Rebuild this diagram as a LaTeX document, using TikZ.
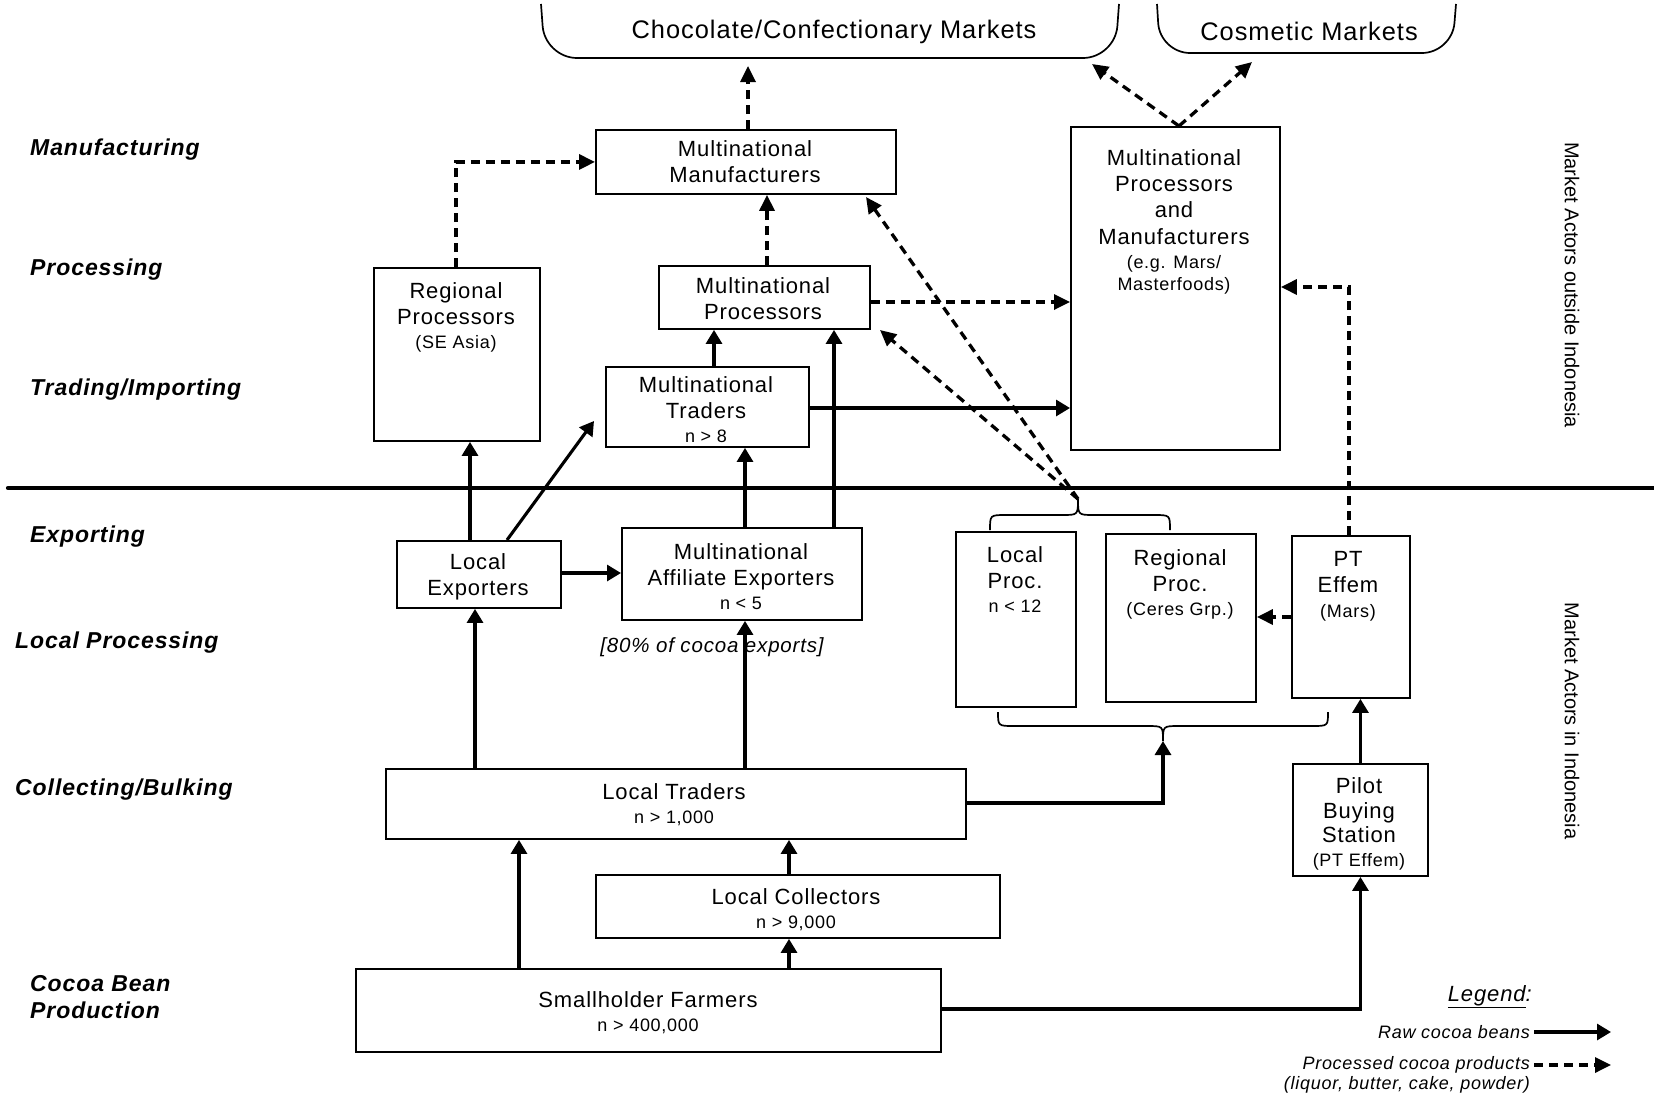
\documentclass[tikz,border=0pt]{standalone}
\usepackage{fontspec}
\setmainfont{Liberation Sans}[LetterSpace=4]
\newfontfamily\plainsans{Liberation Sans}
\usetikzlibrary{arrows.meta,calc}
\newcommand\fmain{\fontsize{22}{26.4}\selectfont}
\newcommand\fsm{\fontsize{18}{21.6}\selectfont}
\newcommand\fmkt{\fontsize{25.4}{30}\selectfont}
\newcommand\flab{\fontsize{23}{27}\selectfont\bfseries\itshape}
\newcommand\mkbox[5]{\node[cbox, minimum width={#4-#2}, minimum height={#5-#3}] (#1) at (#2,#3) {};}
\begin{document}
\begin{tikzpicture}[x=1pt,y=-1pt,
  cbox/.style={draw, line width=1.9pt, inner sep=0, anchor=north west},
  txt/.style={align=center, inner sep=0, font=\fmain, anchor=north},
  lab/.style={inner sep=0, font=\flab, anchor=west},
  ra/.style={line width=3.1pt, -{Triangle[length=14pt,width=16pt]}},
  pa/.style={line width=3.3pt, dash pattern=on 9pt off 6pt, -{Triangle[length=16pt,width=15pt]}},
  side/.style={inner sep=0, rotate=-90, font=\plainsans\fontsize{20}{24}\selectfont},
  leg/.style={inner sep=0, font=\fsm\itshape, anchor=east}]
\useasboundingbox (0,0) rectangle (1654,1095);

% markets
\draw[line width=1.7pt, rounded corners=32pt] (541,4) -- (545,58) -- (1115,58) -- (1119,4);
\draw[line width=1.7pt, rounded corners=30pt] (1157,4) -- (1160,53) -- (1452,53) -- (1456,4);
\node[inner sep=0, font=\fmkt] (choc) at (834,32) {Chocolate/Confectionary Markets};
\node[inner sep=0, font=\fmkt] (cosm) at (1309,31) {Cosmetic Markets};

% divider
\coordinate (dl) at (8,488);
\coordinate (dr) at (1654,488);
\draw[line width=4.2pt, line cap=round] (dl) -- (dr);

% side labels
\node[side] (outs) at (1572,285) {Market Actors outside Indonesia};
\node[side] (ins) at (1572,721) {Market Actors in Indonesia};

% left labels
\node[lab] (l1) at (30,150) {Manufacturing};
\node[lab] (l2) at (30,270) {Processing};
\node[lab] (l3) at (30,390) {Trading/Importing};
\node[lab] (l4) at (30,537) {Exporting};
\node[lab] (l5) at (15,643) {Local Processing};
\node[lab] (l6) at (15,790) {Collecting/Bulking};
\node[lab, anchor=north west, align=left] (l7) at (30,975) {Cocoa Bean\\Production};

% boxes
\mkbox{mm}{595}{129}{895}{193}
\mkbox{mpm}{1070}{126}{1279}{449}
\mkbox{rp}{373}{267}{539}{440}
\mkbox{mp}{658}{265}{869}{328}
\mkbox{mt}{605}{366}{808}{446}
\mkbox{le}{396}{540}{560}{607}
\mkbox{mae}{621}{527}{861}{619}
\mkbox{lp}{955}{531}{1075}{706}
\mkbox{regp}{1105}{533}{1255}{701}
\mkbox{pt}{1291}{535}{1409}{697}
\mkbox{lt}{385}{768}{965}{838}
\mkbox{pilot}{1292}{763}{1427}{875}
\mkbox{lc}{595}{874}{999}{937}
\mkbox{sf}{355}{968}{940}{1051}

% box texts
\node[txt] (mm-t) at (745,140) {Multinational\\Manufacturers};
\node[txt] (mpm-t) at (1174,149) {Multinational\\Processors\\and\\Manufacturers\\[-2pt]{\fsm (e.g. Mars/}\\[-4.5pt]{\fsm Masterfoods)}};
\node[txt] (rp-t) at (456,282) {Regional\\Processors\\[-2pt]{\fsm (SE Asia)}};
\node[txt] (mp-t) at (763,277) {Multinational\\Processors};
\node[txt] (mt-t) at (706,376) {Multinational\\Traders\\[-2pt]{\fsm n > 8}};
\node[txt] (le-t) at (478,553) {Local\\Exporters};
\node[txt] (mae-t) at (741,543) {Multinational\\Affiliate Exporters\\[-2pt]{\fsm n < 5}};
\node[txt] (lp-t) at (1015,546) {Local\\Proc.\\[-2pt]{\fsm n < 12}};
\node[txt] (regp-t) at (1180,549) {Regional\\Proc.\\[-2pt]{\fsm (Ceres Grp.)}};
\node[txt] (pt-t) at (1348,551) {PT\\Effem\\[-2pt]{\fsm (Mars)}};
\node[txt] (lt-t) at (674,783) {Local Traders\\[-2pt]{\fsm n > 1,000}};
\node[txt] (pilot-t) at (1359,777) {Pilot\\[-1.5pt]Buying\\[-1.5pt]Station\\[-3pt]{\fsm (PT Effem)}};
\node[txt] (lc-t) at (796,888) {Local Collectors\\[-2pt]{\fsm n > 9,000}};
\node[txt] (sf-t) at (648,991) {Smallholder Farmers\\[-2pt]{\fsm n > 400,000}};
\node[inner sep=0, font=\fontsize{20.5}{24}\selectfont\itshape] (note) at (712,647) {[80\% of cocoa exports]};

% braces
\coordinate (bt) at (1078,499);
\coordinate (bb) at (1163,741);
\draw[line width=1.7pt] (990,530) .. controls (990,515) .. (1006,515) -- (1062,515) .. controls (1078,515) .. (bt) .. controls (1078,515) .. (1094,515) -- (1154,515) .. controls (1170,515) .. (1170,530);
\draw[line width=1.7pt] (998,712) .. controls (998,726) .. (1014,726) -- (1147,726) .. controls (1163,726) .. (bb) .. controls (1163,726) .. (1179,726) -- (1312,726) .. controls (1328,726) .. (1328,712);

% connector end points
\coordinate (chocA) at (748,66);
\coordinate (chocB) at (1092,64);
\coordinate (cosmA) at (1252,62);
\coordinate (mmSE) at (866,197);
\coordinate (mpSE) at (880,330);
\coordinate (mtW) at (594,421);

% processed (dashed) flows
\draw[pa] (mm.north -| 748,0) -- (chocA);
\draw[pa] (mpm.north -| 1179,0) -- (chocB);
\draw[pa] (mpm.north -| 1179,0) -- (cosmA);
\draw[pa] (rp.north -| 456,0) |- (mm.west);
\draw[pa] (mp.north -| 767,0) -- (mm.south -| 767,0);
\draw[pa] (mp.east |- 0,302) -- (mpm.west |- 0,302);
\draw[pa] (bt) -- (mmSE);
\draw[pa] (bt) -- (mpSE);
\draw[pa] (pt.west |- 0,617) -- (regp.east |- 0,617);
\draw[pa] (pt.north -| 1349,0) |- (mpm.east |- 0,287);

% raw (solid) flows
\draw[ra] (mt.north -| 714,0) -- (mp.south -| 714,0);
\draw[ra] (mae.north -| 834,0) -- (mp.south -| 834,0);
\draw[ra] (mae.north -| 745,0) -- (mt.south -| 745,0);
\draw[ra] (mt.east |- 0,408) -- (mpm.west |- 0,408);
\draw[ra] (le.north -| 470,0) -- (rp.south -| 470,0);
\draw[ra] (le.north -| 507,0) -- (mtW);
\draw[ra] (le.east |- 0,573) -- (mae.west |- 0,573);
\draw[ra] (lt.north -| 475,0) -- (le.south -| 475,0);
\draw[ra] (lt.north -| 745,0) -- (mae.south -| 745,0);
\draw[ra] (lt.east |- 0,803) -| (bb);
\draw[ra] (lc.north -| 789,0) -- (lt.south -| 789,0);
\draw[ra] (sf.north -| 519,0) -- (lt.south -| 519,0);
\draw[ra] (sf.north -| 789,0) -- (lc.south -| 789,0);
\draw[ra] (sf.east |- 0,1009) -| (pilot.south);
\draw[ra] (pilot.north) -- (pilot.north |- pt.south);

% legend
\node[inner sep=0, font=\fmain\itshape, anchor=east] (legh) at (1532,997) {\underline{Legend}:};
\node[leg] (lraw) at (1530,1032) {Raw cocoa beans};
\node[leg] (lproc) at (1530,1065) {Processed cocoa products};
\node[leg] (lproc2) at (1530,1085) {(liquor, butter, cake, powder)};
\coordinate (lrawE) at (1611,1032);
\coordinate (lprocE) at (1611,1065);
\draw[ra] ([xshift=4pt]lraw.east) -- (lrawE);
\draw[pa] ([xshift=4pt]lproc.east) -- (lprocE);
\end{tikzpicture}
\end{document}
